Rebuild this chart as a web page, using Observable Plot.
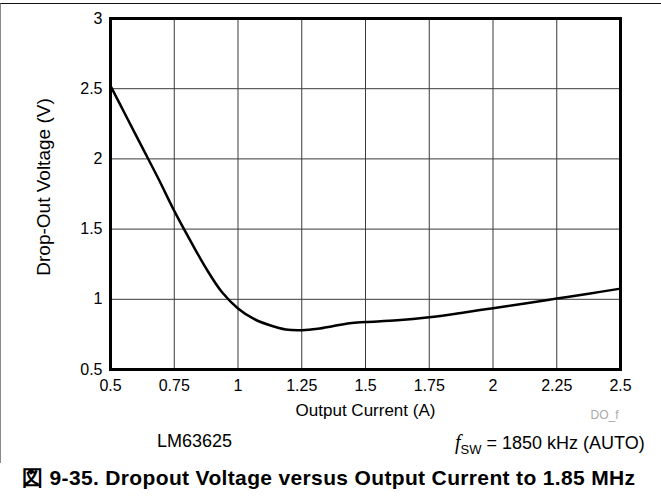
<!DOCTYPE html>
<html>
<head>
<meta charset="utf-8">
<script src="https://cdn.jsdelivr.net/npm/d3@7"></script>
<script src="https://cdn.jsdelivr.net/npm/@observablehq/plot@0.6"></script>
<style>
  html, body { margin: 0; padding: 0; background: #fff; }
  #wrap { position: relative; width: 661px; height: 500px; overflow: hidden; font-family: "Liberation Sans", Arial, sans-serif; color: #000; }
  #frame { position: absolute; left: 0; top: 3px; width: 661px; height: 460px; border-top: 1.5px solid #111; border-left: 1.5px solid #888; box-sizing: border-box; pointer-events: none; }
  #chart { position: absolute; left: 0; top: 0; }
  .note { position: absolute; font-size: 18px; white-space: nowrap; line-height: 1; }
  #caption { position: absolute; left: 22px; top: 467px; font-size: 21px; letter-spacing: 0.35px; font-weight: bold; white-space: nowrap; line-height: 1; }
</style>
</head>
<body>
<div id="wrap">
  <div id="chart"></div>
  <div id="frame"></div>
  <div class="note" id="part" style="left:157px; top:432px;">LM63625</div>
  <div class="note" id="fsw" style="left:455px; top:432px;"><i style="font-family:'Liberation Serif','Times New Roman',serif; font-size:20px;">f</i><span style="font-size:13px; position:relative; top:5px;">SW</span> = 1850 kHz (AUTO)</div>
  <div id="caption">図 9-35. Dropout Voltage versus Output Current to 1.85 MHz</div>
</div>
<script>
// Output current (A)
const current = [0.5, 0.5625, 0.625, 0.6875, 0.75, 0.8125, 0.875, 0.9375, 1.0, 1.0625, 1.125, 1.1875, 1.25, 1.3125, 1.375, 1.4375, 1.5, 1.625, 1.75, 1.875, 2.0, 2.125, 2.25, 2.375, 2.5];
// Drop-out voltage (V)
const voltage = [2.52, 2.30, 2.08, 1.86, 1.63, 1.42, 1.22, 1.05, 0.935, 0.86, 0.815, 0.785, 0.78, 0.79, 0.81, 0.83, 0.838, 0.85, 0.872, 0.903, 0.937, 0.97, 1.005, 1.04, 1.076];
const xTicks = [0.5, 0.75, 1, 1.25, 1.5, 1.75, 2, 2.25, 2.5];
const yTicks = [0.5, 1, 1.5, 2, 2.5, 3];
const xTitle = "Output Current (A)";
const yTitle = "Drop-Out Voltage (V)";
const tag = "DO_f";

const data = current.map((c, i) => ({c, v: voltage[i]}));

const chart = Plot.plot({
  width: 661,
  height: 425,
  marginLeft: 110,
  marginRight: 41,
  marginTop: 18,
  marginBottom: 56,
  style: {fontFamily: "'Liberation Sans', Arial, sans-serif", fontSize: "16px", color: "#000", background: "transparent", overflow: "visible"},
  x: {domain: [0.5, 2.5]},
  y: {domain: [0.5, 3]},
  marks: [
    Plot.gridX(xTicks, {stroke: "#3a3a3a", strokeOpacity: 1, strokeWidth: 1}),
    Plot.gridY(yTicks, {stroke: "#3a3a3a", strokeOpacity: 1, strokeWidth: 1}),
    Plot.line(data, {x: "c", y: "v", curve: "catmull-rom", stroke: "#000", strokeWidth: 2.5}),
    Plot.frame({stroke: "#000", strokeWidth: 3}),
    Plot.axisX(xTicks, {tickSize: 0, tickPadding: 10, label: null, tickFormat: d => String(d), fontSize: 16}),
    Plot.axisY(yTicks, {tickSize: 0, tickPadding: 8, label: null, tickFormat: d => String(d), fontSize: 16}),
    Plot.text([xTitle], {text: d => d, frameAnchor: "bottom", dy: 41, lineAnchor: "middle", fontSize: 17}),
    Plot.text([yTitle], {text: d => d, frameAnchor: "left", dx: -67, dy: -7, rotate: -90, textAnchor: "middle", lineAnchor: "middle", fontSize: 19}),
    Plot.text([tag], {text: d => d, frameAnchor: "bottom-right", dx: -30, dy: 46, textAnchor: "start", lineAnchor: "middle", fill: "#aaa", fontSize: 12})
  ]
});
document.getElementById("chart").appendChild(chart);
</script>
</body>
</html>
